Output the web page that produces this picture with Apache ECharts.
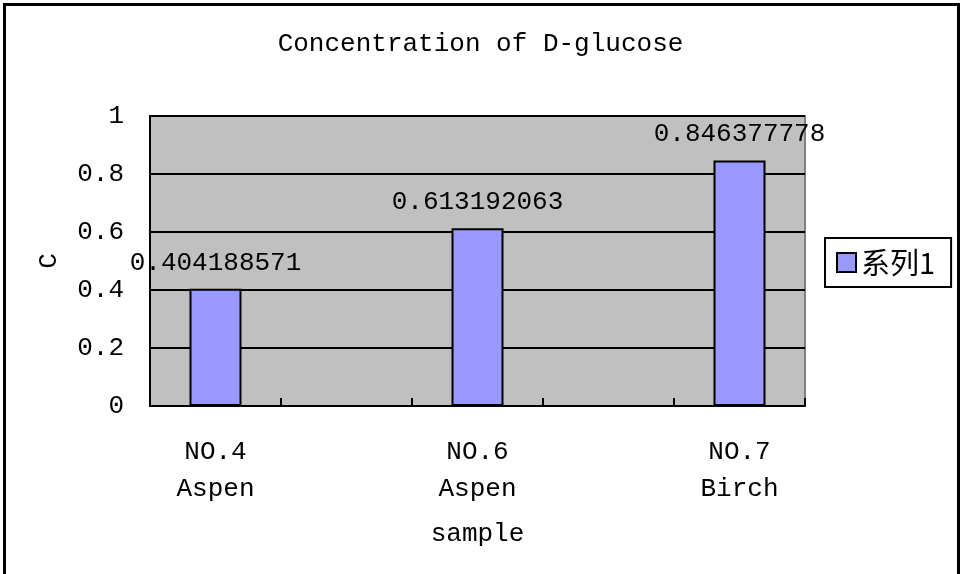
<!DOCTYPE html>
<html>
<head>
<meta charset="utf-8">
<script src="https://cdn.jsdelivr.net/npm/echarts@6/dist/echarts.min.js"></script>
<style>
html,body{margin:0;padding:0;background:#fff;}
#wrap{position:relative;width:961px;height:574px;overflow:hidden;}
#chart{position:absolute;left:0;top:0;width:961px;height:574px;}
#frame{position:absolute;left:3px;top:3px;width:951px;height:600px;border:3px solid #000;pointer-events:none;}
</style>
</head>
<body>
<div id="wrap"><div id="chart"></div><div id="frame"></div></div>
<script>
const titleText = 'Concentration of D-glucose';
const categories = ['NO.4\nAspen', 'NO.6\nAspen', 'NO.7\nBirch'];
const seriesName = '系列1';
const values = [0.404188571, 0.613192063, 0.846377778];
const yTicks = { min: 0, max: 1, interval: 0.2 };
const xName = 'sample';
const yName = 'C';

// Excel-like layout: categories separated by an empty half-slot on each side
const slotCats = [];
const slotVals = [];
categories.forEach((c, i) => {
  slotCats.push(c); slotVals.push(values[i]);
  if (i < categories.length - 1) { slotCats.push(''); slotVals.push('-'); }
});

const mono = '"Liberation Mono", "DejaVu Sans Mono", monospace';
const chart = echarts.init(document.getElementById('chart'));
chart.setOption({
  animation: false,
  backgroundColor: '#fff',
  title: {
    text: titleText, left: 'center', top: 26,
    textStyle: { fontFamily: mono, fontSize: 26, fontWeight: 'normal', color: '#000' }
  },
  legend: {
    data: [{ name: seriesName, icon: 'rect' }], left: 825, top: 238, orient: 'vertical',
    padding: [10, 16, 10, 11], itemGap: 0,
    itemWidth: 19, itemHeight: 19,
    borderColor: '#000', borderWidth: 2, backgroundColor: '#fff',
    textStyle: { fontFamily: '"Noto Sans CJK SC"', fontSize: 29, color: '#000' }
  },
  grid: {
    left: 150, right: 156, top: 116, bottom: 168,
    show: true, backgroundColor: '#C0C0C0', borderColor: '#808080', borderWidth: 2
  },
  xAxis: {
    type: 'category', data: slotCats, boundaryGap: true, z: 5,
    name: xName, nameLocation: 'middle', nameGap: 115,
    nameTextStyle: { fontFamily: mono, fontSize: 26, color: '#000' },
    axisLine: { lineStyle: { color: '#000', width: 2 } },
    axisTick: { show: true, interval: 0, inside: true, length: 8, lineStyle: { color: '#000', width: 2 } },
    axisLabel: { interval: 0, margin: 28, fontFamily: mono, fontSize: 26, lineHeight: 37, color: '#000' },
    splitLine: { show: false }
  },
  yAxis: {
    type: 'value', min: yTicks.min, max: yTicks.max, interval: yTicks.interval,
    name: yName, nameLocation: 'middle', nameGap: 88, nameRotate: 90,
    nameTextStyle: { fontFamily: mono, fontSize: 26, color: '#000' },
    axisLine: { show: true, lineStyle: { color: '#000', width: 2 } },
    axisTick: { show: true, inside: true, length: 8, lineStyle: { color: '#000', width: 2 } },
    axisLabel: { margin: 26, fontFamily: mono, fontSize: 26, color: '#000',
      formatter: v => String(Math.round(v * 10) / 10) },
    splitLine: { show: true, lineStyle: { color: '#000', width: 2 } }
  },
  series: [{
    name: seriesName, type: 'bar', data: slotVals, barWidth: 52,
    itemStyle: { color: '#9999FF', borderColor: '#000', borderWidth: 2 },
    label: { show: true, position: 'top', distance: 13, fontFamily: mono, fontSize: 26, color: '#000',
      formatter: p => String(p.value) }
  }]
});
</script>
</body>
</html>
